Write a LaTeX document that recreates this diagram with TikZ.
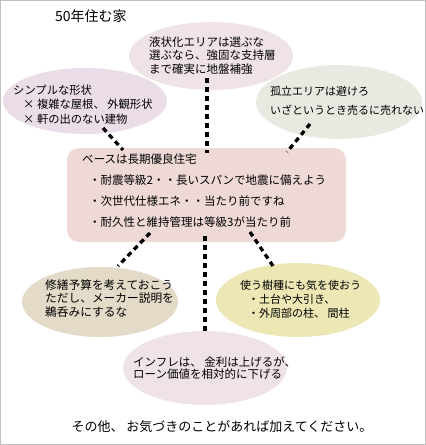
\documentclass[tikz,border=0pt]{standalone}
\usepackage{fontspec}
\setmainfont{Noto Sans CJK JP}
\usetikzlibrary{shapes.geometric}
\definecolor{topc}{RGB}{239,227,229}
\definecolor{leftc}{RGB}{234,221,231}
\definecolor{rightc}{RGB}{234,233,225}
\definecolor{boxc}{RGB}{238,217,215}
\definecolor{blc}{RGB}{227,218,200}
\definecolor{brc}{RGB}{236,231,180}
\definecolor{bcc}{RGB}{240,227,229}
\definecolor{framec}{RGB}{192,192,192}
\begin{document}
\begin{tikzpicture}[x=1pt,y=-1pt,
  bub/.style={ellipse, draw=none, inner sep=0pt},
  txt/.style={anchor=west, align=left, inner sep=0pt, text=black},
  conn/.style={line width=3.3pt, dash pattern=on 5pt off 4pt, black}]
\useasboundingbox (0,0) rectangle (426,445);
\draw[framec, line width=1pt] (0.5,0.5) rectangle (425.5,444.5);

% title
\node[txt, font=\fontsize{14}{16}\selectfont] (title) at (55,16) {50年住む家};

% bubbles
\node[bub, fill=topc, minimum width=164pt, minimum height=68pt] (top) at (211,56) {};
\node[bub, fill=leftc, minimum width=164pt, minimum height=66pt] (left) at (85,101) {};
\node[bub, fill=rightc, minimum width=166pt, minimum height=74pt] (right) at (339,102) {};
\node[bub, fill=blc, minimum width=156pt, minimum height=70pt] (bl) at (100,302) {};
\node[bub, fill=brc, minimum width=164pt, minimum height=74pt] (br) at (298,300) {};
\node[bub, fill=bcc, minimum width=164pt, minimum height=74pt] (bc) at (205,368) {};

% main box
\node[draw=none, fill=boxc, rounded corners=12pt, minimum width=279pt, minimum height=94pt, inner sep=0pt] (base) at (206.5,195) {};

% texts
\node[txt, font=\fontsize{11.5}{13.5}\selectfont] (ttop) at (149,55.5)
  {液状化エリアは選ぶな\\選ぶなら、強固な支持層\\まで確実に地盤補強};
\node[txt, font=\fontsize{11.3}{14.5}\selectfont] (tleft) at (13,104.5)
  {シンプルな形状\\\hspace{10pt}× 複雑な屋根、 外観形状\\\hspace{10pt}× 軒の出のない建物};
\node[txt, font=\fontsize{11}{19}\selectfont] (tright) at (270,100.5)
  {孤立エリアは避けろ\\いざというとき売るに売れない};
\node[txt, font=\fontsize{11.5}{21}\selectfont] (tbase) at (82,190.5)
  {ベースは長期優良住宅\\\hspace{7pt}・耐震等級2・・長いスパンで地震に備えよう\\\hspace{7pt}・次世代仕様エネ・・当たり前ですね\\\hspace{7pt}・耐久性と維持管理は等級3が当たり前};
\node[txt, font=\fontsize{11.7}{13.5}\selectfont] (tbl) at (45,298.5)
  {修繕予算を考えておこう\\ただし、メーカー説明を\\鵜呑みにするな};
\node[txt, font=\fontsize{11}{14}\selectfont] (tbr) at (240,299)
  {使う樹種にも気を使おう\\\hspace{8pt}・土台や大引き、\\\hspace{8pt}・外周部の柱、 間柱};
\node[txt, font=\fontsize{11.5}{12.5}\selectfont] (tbc) at (133,368)
  {インフレは、 金利は上げるが、\\ローン価値を相対的に下げる};
\node[font=\fontsize{13}{15}\selectfont, inner sep=0pt] (foot) at (222,427)
  {その他、 お気づきのことがあれば加えてください。};

% connector end points
\coordinate (l1a) at (103,128); \coordinate (l1b) at (123,150);
\coordinate (l2a) at (207,78);  \coordinate (l2b) at (207,153);
\coordinate (l3a) at (310,124); \coordinate (l3b) at (287,152);
\coordinate (l4a) at (150,233); \coordinate (l4b) at (118,266);
\coordinate (l5a) at (205,236); \coordinate (l5b) at (205,333);
\coordinate (l6a) at (250,232); \coordinate (l6b) at (273,266);

\draw[conn] (l1a) -- (l1b);
\draw[conn] (l2a) -- (l2b);
\draw[conn] (l3a) -- (l3b);
\draw[conn] (l4a) -- (l4b);
\draw[conn] (l5a) -- (l5b);
\draw[conn] (l6a) -- (l6b);
\end{tikzpicture}
\end{document}
